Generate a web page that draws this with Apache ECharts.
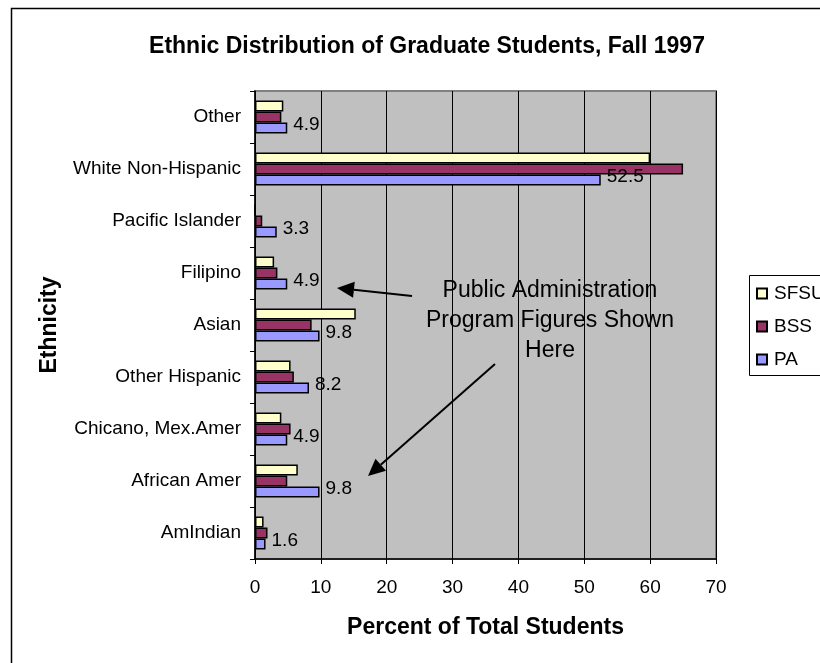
<!DOCTYPE html>
<html>
<head>
<meta charset="utf-8">
<script src="https://cdn.jsdelivr.net/npm/echarts@6/dist/echarts.min.js"></script>
<style>
  html, body { margin: 0; padding: 0; background: #ffffff; }
  #chart { width: 820px; height: 663px; }
</style>
</head>
<body>
<div id="chart"></div>
<script>
// Ethnic groups, listed top to bottom
const categories = ['Other', 'White Non-Hispanic', 'Pacific Islander', 'Filipino', 'Asian',
  'Other Hispanic', 'Chicano, Mex.Amer', 'African Amer', 'AmIndian'];

// Percent of total graduate students in each group
const sfsu = [4.3, 60.0, 0, 2.9, 15.3, 5.4, 4.0, 6.5, 1.3];
const bss  = [4.0, 65.0, 1.1, 3.4, 8.6, 5.9, 5.4, 4.9, 1.9];
const pa   = [4.9, 52.5, 3.3, 4.9, 9.8, 8.2, 4.9, 9.8, 1.6];

const seriesNames = ['SFSU', 'BSS', 'PA'];
const xTicks = { min: 0, max: 70, step: 10 };

const FONT = "'Liberation Sans', Arial, sans-serif";
const chart = echarts.init(document.getElementById('chart'), null, { renderer: 'canvas' });

// Arrow built from a shaft and a filled triangular head
function arrow(x1, y1, x2, y2) {
  const ang = Math.atan2(y2 - y1, x2 - x1);
  const len = 17, half = 8;
  const bx = x2 - len * Math.cos(ang), by = y2 - len * Math.sin(ang);
  const px = -Math.sin(ang) * half, py = Math.cos(ang) * half;
  return [
    { type: 'line', shape: { x1: x1, y1: y1, x2: bx, y2: by },
      style: { stroke: '#000', lineWidth: 2 }, z: 100 },
    { type: 'polygon', shape: { points: [[x2, y2], [bx + px, by + py], [bx - px, by - py]] },
      style: { fill: '#000' }, z: 100 }
  ];
}

const barStyle = (color) => ({ color: color, borderColor: '#000', borderWidth: 1.5 });

chart.setOption({
  animation: false,
  backgroundColor: '#ffffff',
  title: {
    text: 'Ethnic Distribution of Graduate Students, Fall 1997',
    left: 422, top: 30, textAlign: 'center',
    textStyle: { fontFamily: FONT, fontSize: 23, fontWeight: 'bold', color: '#000' }
  },
  grid: {
    left: 255, right: 104, top: 91, bottom: 104,
    show: true, backgroundColor: '#C0C0C0', borderColor: '#808080', borderWidth: 2
  },
  legend: {
    orient: 'vertical', left: 751, top: 279,
    itemWidth: 10, itemHeight: 10, itemGap: 14, icon: 'rect',
    data: seriesNames,
    textStyle: { fontFamily: FONT, fontSize: 19, color: '#000', padding: [0, 0, 0, 2] }
  },
  xAxis: {
    type: 'value', min: xTicks.min, max: xTicks.max, interval: xTicks.step,
    name: 'Percent of Total Students', nameLocation: 'middle', nameGap: 57,
    nameTextStyle: { fontFamily: FONT, fontSize: 23, fontWeight: 'bold', color: '#000' },
    axisLine: { show: true, lineStyle: { color: '#000', width: 1.5 } },
    axisTick: { show: true, length: 5, lineStyle: { color: '#000' } },
    axisLabel: { fontFamily: FONT, fontSize: 19, color: '#000', margin: 19 },
    splitLine: { show: true, lineStyle: { color: '#000', width: 1 } }
  },
  yAxis: {
    type: 'category', data: categories, inverse: true,
    name: 'Ethnicity', nameLocation: 'middle', nameGap: 194, nameRotate: 90,
    nameTextStyle: { fontFamily: FONT, fontSize: 23, fontWeight: 'bold', color: '#000' },
    axisLine: { show: true, lineStyle: { color: '#000', width: 1.5 } },
    axisTick: { show: true, length: 5, inside: false, lineStyle: { color: '#000' } },
    axisLabel: { fontFamily: FONT, fontSize: 19, color: '#000', margin: 14 },
    splitLine: { show: false }
  },
  series: [
    { name: seriesNames[0], type: 'bar', data: sfsu, barWidth: 11, barGap: '0%',
      itemStyle: barStyle('#FFFFCC') },
    { name: seriesNames[1], type: 'bar', data: bss, barWidth: 11, barGap: '0%',
      itemStyle: barStyle('#993366') },
    { name: seriesNames[2], type: 'bar', data: pa, barWidth: 11, barGap: '0%',
      itemStyle: barStyle('#9999FF'),
      label: { show: true, position: 'right', distance: 6, offset: [0, -3],
        fontFamily: FONT, fontSize: 19, color: '#000',
        formatter: (p) => p.value.toFixed(1) } }
  ],
  graphic: [
    { type: 'rect', shape: { x: 11.5, y: 8.5, width: 900, height: 700 },
      style: { fill: null, stroke: '#000', lineWidth: 1.5 }, z: -10, silent: true },
    { type: 'rect', shape: { x: 749.5, y: 275.5, width: 100, height: 100 },
      style: { fill: '#fff', stroke: '#000', lineWidth: 1 }, z: -1 },
    { type: 'text', x: 550, y: 321, z: 100,
      style: { text: 'Public Administration\nProgram Figures Shown\nHere',
        font: '23px ' + FONT, fill: '#000', align: 'center', verticalAlign: 'middle', lineHeight: 30 } },
    ...arrow(412, 296, 337, 288),
    ...arrow(495, 364, 368, 476)
  ]
});
</script>
</body>
</html>
